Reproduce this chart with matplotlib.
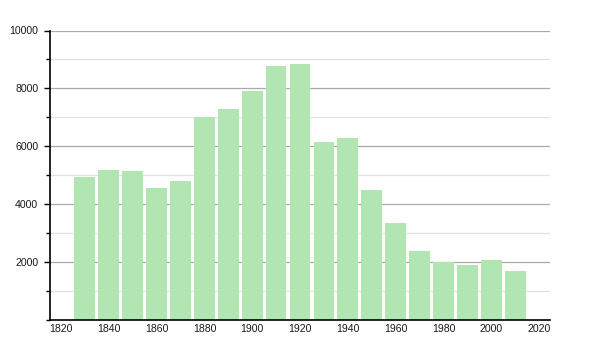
import matplotlib

matplotlib.use("Agg")

import matplotlib.pyplot as plt
from matplotlib.ticker import MultipleLocator

years = [1830, 1840, 1850, 1860, 1870, 1880, 1890, 1900, 1910, 1920,
         1930, 1940, 1950, 1960, 1970, 1980, 1990, 2000, 2010]
population = [4940, 5170, 5140, 4560, 4800, 7010, 7290, 7910, 8760, 8840,
              6140, 6290, 4480, 3345, 2400, 2010, 1910, 2070, 1690]
x_ticks = [1820, 1840, 1860, 1880, 1900, 1920, 1940, 1960, 1980, 2000, 2020]
y_ticks = [2000, 4000, 6000, 8000, 10000]

plt.rcParams["font.family"] = ["Liberation Sans", "DejaVu Sans"]

figure = plt.figure(figsize=(6, 3.5), dpi=100)
axis = figure.add_axes([50 / 600, 30 / 350, 500 / 600, 289.5 / 350])

axis.bar(years, population, width=8.7, color="#b1e5b1", edgecolor="none", zorder=2)

axis.set_xlim(1815.4, 2024.6)
axis.set_ylim(0, 10000)
axis.set_xticks(x_ticks)
axis.set_yticks(y_ticks)
axis.yaxis.set_minor_locator(MultipleLocator(1000))

axis.grid(axis="y", which="major", color="#aaaaaa", linewidth=0.9, zorder=0)
axis.grid(axis="y", which="minor", color="#e2e2e2", linewidth=0.9, zorder=0)

for side in ("top", "right"):
    axis.spines[side].set_visible(False)
for side in ("left", "bottom"):
    axis.spines[side].set_linewidth(1.2)
    axis.spines[side].set_color("black")

axis.tick_params(axis="x", length=0, pad=3, labelsize=7.6, colors="#1a1a1a")
axis.tick_params(axis="y", which="major", length=4.5, width=1, pad=4,
                 labelsize=7.6, colors="#1a1a1a")
axis.tick_params(axis="y", which="minor", length=3, width=1, color="black")
axis.tick_params(axis="y", which="major", color="black")

figure.savefig("out.png", dpi=100)
plt.close(figure)
